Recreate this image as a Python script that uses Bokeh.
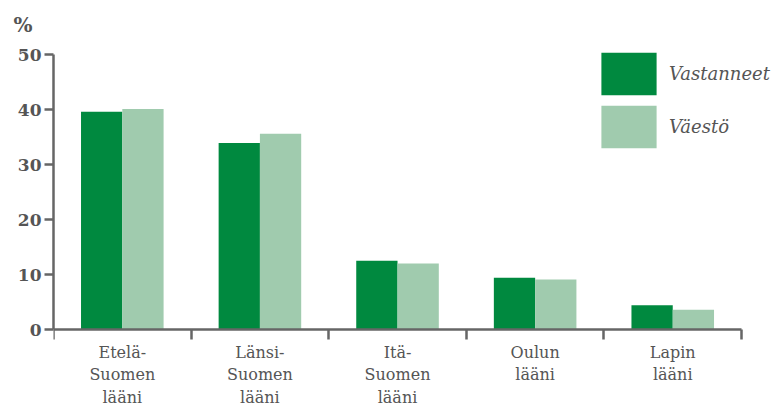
from bokeh.plotting import figure
from bokeh.models import Range1d, FixedTicker, Legend, LegendItem, ColumnDataSource
from bokeh.embed import file_html
from bokeh.resources import INLINE

categories = ["Etelä-\nSuomen\nlääni", "Länsi-\nSuomen\nlääni", "Itä-\nSuomen\nlääni", "Oulun\nlääni", "Lapin\nlääni"]
vastanneet = [39.6, 33.9, 12.5, 9.4, 4.4]
vaesto = [40.1, 35.6, 12.0, 9.1, 3.6]
y_ticks = [0, 10, 20, 30, 40, 50]

DARK = "#00893f"
LIGHT = "#a0cbae"
GREY = "#666666"
TXT = "#555555"
SERIF = "DejaVu Serif"

centers = [i + 0.5 for i in range(len(categories))]
src = ColumnDataSource(dict(
    xd=[c - 0.15 for c in centers],
    xl=[c + 0.15 for c in centers],
    v1=vastanneet, v2=vaesto,
))

p = figure(width=776, height=407, output_backend="svg", toolbar_location=None,
           x_range=Range1d(0, 5.254), y_range=Range1d(-14.18, 51.82),
           min_border_left=53, min_border_right=0, min_border_top=44, min_border_bottom=0)
p.outline_line_color = None
p.xgrid.visible = False
p.ygrid.visible = False

r1 = p.vbar(x="xd", top="v1", width=0.3, source=src, fill_color=DARK, line_color=None)
r2 = p.vbar(x="xl", top="v2", width=0.3, source=src, fill_color=LIGHT, line_color=None)

# x axis (fixed at y = 0)
xa = p.xaxis[0]
xa.fixed_location = 0
xa.ticker = FixedTicker(ticks=centers, minor_ticks=list(range(len(categories) + 1)))
xa.major_label_overrides = {c: lab for c, lab in zip(centers, categories)}
xa.bounds = (0, 5)
xa.axis_line_color = GREY
xa.axis_line_width = 2.5
xa.major_tick_out = 0
xa.major_tick_in = 0
xa.minor_tick_out = 10
xa.minor_tick_in = 0
xa.minor_tick_line_color = GREY
xa.minor_tick_line_width = 2.5
xa.major_label_standoff = 3
xa.major_label_text_font = SERIF
xa.major_label_text_font_size = "16px"
xa.major_label_text_color = TXT

# y axis
ya = p.yaxis[0]
ya.ticker = FixedTicker(ticks=y_ticks)
ya.bounds = (0, 50)
ya.axis_line_color = GREY
ya.axis_line_width = 2.5
ya.major_tick_out = 9
ya.major_tick_in = 0
ya.minor_tick_out = 0
ya.minor_tick_in = 0
ya.major_tick_line_color = GREY
ya.major_tick_line_width = 2.5
ya.major_label_standoff = 3
ya.major_label_text_font = SERIF
ya.major_label_text_font_style = "bold"
ya.major_label_text_font_size = "17px"
ya.major_label_text_color = TXT

# title "%"
p.title.text = "%"
p.title.text_font = SERIF
p.title.text_font_style = "bold"
p.title.text_font_size = "20px"
p.title.text_color = TXT
p.title.offset = -40
p.title.standoff = 15

legend = Legend(items=[LegendItem(label="Vastanneet", renderers=[r1]),
                       LegendItem(label="Väestö", renderers=[r2])],
                location=(541, 254), orientation="vertical",
                glyph_width=69, glyph_height=53, spacing=0, padding=0, margin=0,
                label_standoff=6, border_line_color=None, background_fill_alpha=0,
                label_text_font=SERIF, label_text_font_style="italic",
                label_text_font_size="18px", label_text_color=TXT)
p.add_layout(legend)

open("out.html", "w").write(file_html(p, INLINE))
